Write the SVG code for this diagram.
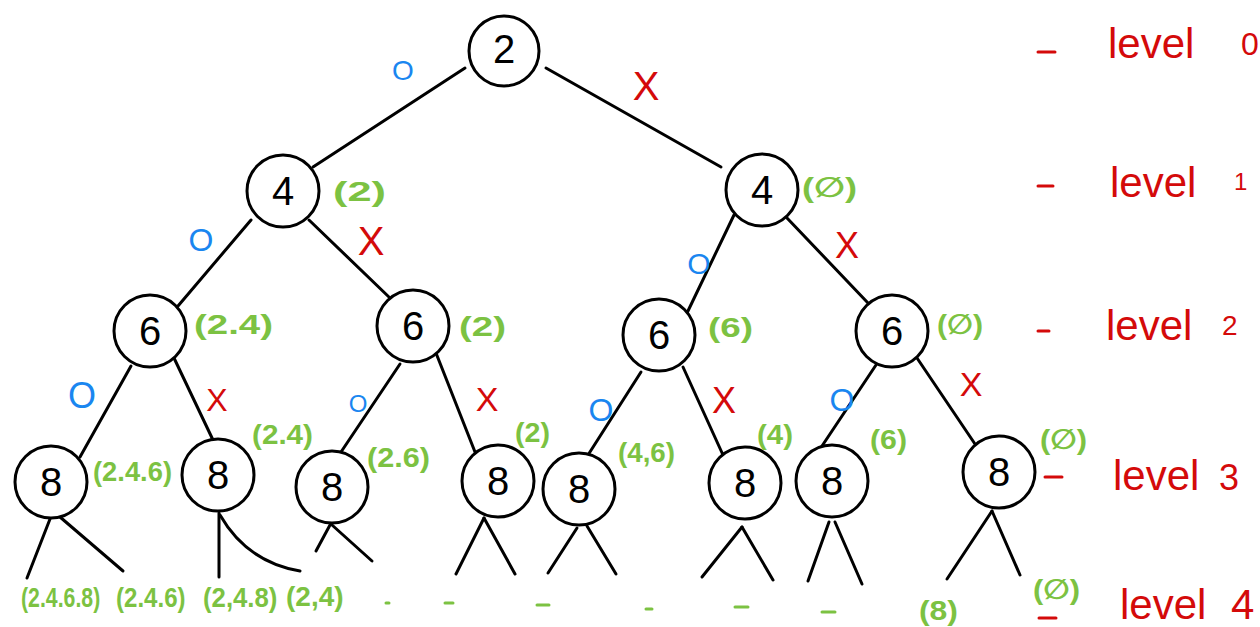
<svg xmlns="http://www.w3.org/2000/svg" width="1260" height="627" viewBox="0 0 1260 627">
<style>
.node circle{fill:#fff;stroke:#000;stroke-width:3}
.node text{font-family:"Liberation Sans","DejaVu Sans",sans-serif;font-size:40px;fill:#000;text-anchor:middle}
#connectors line,#connectors path{stroke:#000;stroke-width:3;stroke-linecap:round;fill:none}
.o{font-family:"Liberation Sans",sans-serif;fill:#1a86f0;text-anchor:middle}
.x{font-family:"Liberation Sans",sans-serif;fill:#d40a0a;text-anchor:middle}
.g{font-family:"Liberation Sans","DejaVu Sans",sans-serif;font-size:28px;font-weight:bold;fill:#7cc242}
.gd{stroke:#7cc242;stroke-width:3;stroke-linecap:round}
.lv{font-family:"Liberation Sans",sans-serif;font-size:42px;fill:#d40a0a}
.rd{stroke:#d40a0a;stroke-width:3;stroke-linecap:round}
</style>
<rect width="1260" height="627" fill="#fff"/>
<g id="connectors">
<line x1="465" y1="68" x2="313" y2="167"/>
<line x1="546" y1="68" x2="721" y2="167"/>
<line x1="251" y1="220" x2="178" y2="306"/>
<line x1="309" y1="220" x2="390" y2="298"/>
<line x1="734" y1="215" x2="687" y2="313"/>
<line x1="787" y1="218" x2="868" y2="303"/>
<line x1="131" y1="366" x2="80" y2="457"/>
<line x1="174" y1="358" x2="213" y2="440"/>
<line x1="400" y1="364" x2="341" y2="452"/>
<line x1="436" y1="353" x2="475" y2="452"/>
<line x1="641" y1="372" x2="588" y2="455"/>
<line x1="683" y1="367" x2="723" y2="455"/>
<line x1="876" y1="365" x2="820" y2="449"/>
<line x1="917" y1="358" x2="975" y2="444"/>
<line x1="50" y1="519" x2="27" y2="578"/>
<line x1="60" y1="517" x2="123" y2="571"/>
<line x1="219" y1="513" x2="219" y2="577"/>
<path d="M220,515 Q247,562 300,571"/>
<line x1="330" y1="525" x2="316" y2="551"/>
<line x1="332" y1="525" x2="372" y2="561"/>
<line x1="484" y1="518" x2="456" y2="574"/>
<line x1="484" y1="518" x2="515" y2="574"/>
<line x1="577" y1="528" x2="548" y2="573"/>
<line x1="587" y1="526" x2="616" y2="574"/>
<line x1="742" y1="527" x2="702" y2="577"/>
<line x1="742" y1="527" x2="773" y2="580"/>
<line x1="829" y1="522" x2="808" y2="581"/>
<line x1="835" y1="522" x2="862" y2="584"/>
<line x1="992" y1="511" x2="947" y2="579"/>
<line x1="992" y1="511" x2="1020" y2="575"/>
</g>
<g id="n-root" class="node"><circle cx="504" cy="51" r="35"/><text x="504" y="63" font-size="34">2</text></g>
<g id="n-1L" class="node"><circle cx="283" cy="191" r="36"/><text x="283" y="205">4</text></g>
<g id="n-1R" class="node"><circle cx="762" cy="190" r="36"/><text x="762" y="204">4</text></g>
<g id="n-2a" class="node"><circle cx="150" cy="331" r="36"/><text x="150" y="345">6</text></g>
<g id="n-2b" class="node"><circle cx="413" cy="326" r="36"/><text x="413" y="340">6</text></g>
<g id="n-2c" class="node"><circle cx="659" cy="335" r="36"/><text x="659" y="349">6</text></g>
<g id="n-2d" class="node"><circle cx="892" cy="331" r="36"/><text x="892" y="345">6</text></g>
<g id="n-3a" class="node"><circle cx="51" cy="482" r="36"/><text x="51" y="496">8</text></g>
<g id="n-3b" class="node"><circle cx="218" cy="475" r="36"/><text x="218" y="489">8</text></g>
<g id="n-3c" class="node"><circle cx="332" cy="487" r="36"/><text x="332" y="501">8</text></g>
<g id="n-3d" class="node"><circle cx="498" cy="481" r="36"/><text x="498" y="495">8</text></g>
<g id="n-3e" class="node"><circle cx="579" cy="489" r="36"/><text x="579" y="503">8</text></g>
<g id="n-3f" class="node"><circle cx="745" cy="483" r="36"/><text x="745" y="497">8</text></g>
<g id="n-3g" class="node"><circle cx="832" cy="481" r="36"/><text x="832" y="495">8</text></g>
<g id="n-3h" class="node"><circle cx="999" cy="472" r="36"/><text x="999" y="486">8</text></g>
<g id="edge-labels">
<text class="o" x="403" y="80" font-size="28">O</text>
<text class="x" x="646" y="100" font-size="40">X</text>
<text class="o" x="201" y="251" font-size="32">O</text>
<text class="x" x="371" y="255" font-size="40">X</text>
<text class="o" x="699" y="274" font-size="30">O</text>
<text class="x" x="847" y="258" font-size="36">X</text>
<text class="o" x="82" y="408" font-size="36">O</text>
<text class="x" x="217" y="411" font-size="32">X</text>
<text class="o" x="358" y="412" font-size="24">O</text>
<text class="x" x="487" y="411" font-size="34">X</text>
<text class="o" x="601" y="421" font-size="32">O</text>
<text class="x" x="724" y="413" font-size="36">X</text>
<text class="o" x="842" y="411" font-size="32">O</text>
<text class="x" x="971" y="396" font-size="34">X</text>
</g>
<g id="sets">
<text class="g" x="333" y="201" textLength="53" lengthAdjust="spacingAndGlyphs">(2)</text>
<text class="g" x="802" y="197" textLength="55" lengthAdjust="spacingAndGlyphs">(∅)</text>
<text class="g" x="194" y="334" textLength="79" lengthAdjust="spacingAndGlyphs">(2.4)</text>
<text class="g" x="459" y="336" textLength="47" lengthAdjust="spacingAndGlyphs">(2)</text>
<text class="g" x="708" y="337" textLength="45" lengthAdjust="spacingAndGlyphs">(6)</text>
<text class="g" x="937" y="334" textLength="46" lengthAdjust="spacingAndGlyphs">(∅)</text>
<text class="g" x="93" y="481" textLength="79" lengthAdjust="spacingAndGlyphs">(2.4.6)</text>
<text class="g" x="252" y="444" textLength="61" lengthAdjust="spacingAndGlyphs">(2.4)</text>
<text class="g" x="367" y="467" textLength="63" lengthAdjust="spacingAndGlyphs">(2.6)</text>
<text class="g" x="515" y="442" textLength="35" lengthAdjust="spacingAndGlyphs">(2)</text>
<text class="g" x="618" y="462" textLength="57" lengthAdjust="spacingAndGlyphs">(4,6)</text>
<text class="g" x="757" y="444" textLength="36" lengthAdjust="spacingAndGlyphs">(4)</text>
<text class="g" x="870" y="449" textLength="37" lengthAdjust="spacingAndGlyphs">(6)</text>
<text class="g" x="1040" y="449" textLength="47" lengthAdjust="spacingAndGlyphs">(∅)</text>
<text class="g" transform="translate(21,607) scale(0.76,1)" font-size="31">(2.4.6.8)</text>
<text class="g" transform="translate(116,607) scale(0.86,1)" font-size="31">(2.4.6)</text>
<text class="g" transform="translate(203,607) scale(0.92,1)" font-size="31">(2,4.8)</text>
<text class="g" x="286" y="606" font-size="31">(2,4)</text>
<text class="g" x="919" y="620" font-size="30" textLength="39" lengthAdjust="spacingAndGlyphs">(8)</text>
<text class="g" x="1033" y="599" textLength="47" lengthAdjust="spacingAndGlyphs">(∅)</text>
<line class="gd" x1="386" y1="603" x2="389" y2="603"/>
<line class="gd" x1="445" y1="603" x2="453" y2="603"/>
<line class="gd" x1="537" y1="605" x2="549" y2="605"/>
<line class="gd" x1="646" y1="609" x2="652" y2="609"/>
<line class="gd" x1="735" y1="607" x2="748" y2="607"/>
<line class="gd" x1="822" y1="612" x2="835" y2="612"/>
</g>
<g id="levels">
<line class="rd" x1="1038" y1="52" x2="1055" y2="52"/>
<text class="lv" x="1108" y="58">level <tspan x="1241" y="55" font-size="32">0</tspan></text>
<line class="rd" x1="1038" y1="186" x2="1053" y2="186"/>
<text class="lv" x="1110" y="197">level <tspan x="1234" y="190" font-size="24">1</tspan></text>
<line class="rd" x1="1038" y1="331" x2="1049" y2="331"/>
<text class="lv" x="1106" y="340">level <tspan x="1222" y="335" font-size="28">2</tspan></text>
<line class="rd" x1="1045" y1="477" x2="1062" y2="477"/>
<text class="lv" x="1113" y="490">level <tspan x="1219" font-size="36">3</tspan></text>
<line class="rd" x1="1039" y1="618" x2="1056" y2="618"/>
<text class="lv" x="1120" y="619" font-size="40">level <tspan x="1231">4</tspan></text>
</g>
</svg>
